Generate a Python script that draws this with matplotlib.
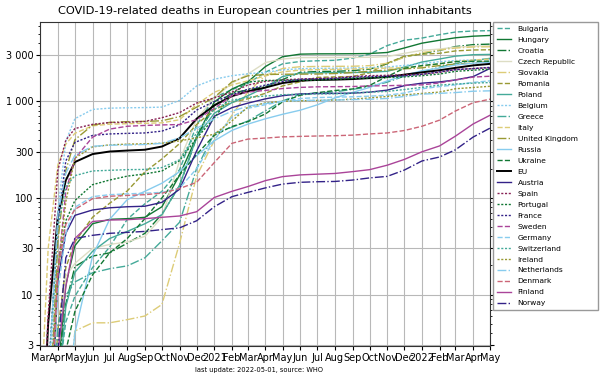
import pandas as pd
import matplotlib
matplotlib.use("Agg")
import matplotlib.pyplot as plt
import matplotlib.dates as mdates
import matplotlib.ticker as mticker

# sample dates (cumulative deaths per 1 million inhabitants)
dates = pd.to_datetime([
    "2020-03-01", "2020-03-15", "2020-04-01", "2020-04-15", "2020-05-01",
    "2020-06-01", "2020-07-01", "2020-08-01", "2020-09-01", "2020-10-01",
    "2020-11-01", "2020-12-01", "2021-01-01", "2021-02-01", "2021-03-01",
    "2021-04-01", "2021-05-01", "2021-06-01", "2021-07-01", "2021-08-01",
    "2021-09-01", "2021-10-01", "2021-11-01", "2021-12-01", "2022-01-01",
    "2022-02-01", "2022-03-01", "2022-04-01", "2022-05-01"])

bulgaria = [0.1, 0.3, 1.2, 5.2, 9.6, 19, 31, 60, 87, 117, 196, 566, 1098, 1318, 1530, 2000, 2437, 2580, 2623, 2652, 2797, 3072, 3768, 4275, 4507, 4884, 5203, 5333, 5377]
hungary = [0.1, 0.2, 1.5, 12.6, 32, 54, 60, 61, 63, 81, 172, 428, 983, 1337, 1585, 2287, 2887, 3072, 3093, 3096, 3103, 3119, 3196, 3557, 3990, 4278, 4536, 4711, 4794]
croatia = [0.1, 0.2, 1.5, 8, 19.5, 25, 27, 34, 43, 68, 134, 421, 906, 1217, 1309, 1421, 1677, 1990, 2031, 2040, 2074, 2148, 2444, 2889, 3111, 3358, 3679, 3852, 3901]
czechia = [0.1, 0.1, 2.2, 15.5, 21, 30, 33, 35, 40, 63, 243, 656, 1082, 1532, 1913, 2513, 2737, 2828, 2833, 2838, 2842, 2849, 2897, 3131, 3364, 3467, 3626, 3710, 3748]
slovakia = [0.1, 0.1, 0.1, 0.4, 4.2, 5.1, 5.1, 5.5, 6, 7.9, 34, 168, 392, 715, 1244, 1843, 2183, 2276, 2291, 2297, 2302, 2335, 2473, 2839, 3187, 3388, 3553, 3645, 3663]
romania = [0.1, 0.1, 4.3, 19, 35, 63, 88, 118, 186, 253, 365, 575, 821, 977, 1061, 1209, 1442, 1588, 1766, 1786, 1802, 1969, 2474, 2927, 3063, 3135, 3318, 3391, 3411]
poland = [0.1, 0.1, 0.9, 7.5, 17, 28, 38, 45, 54, 67, 135, 425, 751, 968, 1141, 1392, 1802, 1951, 1971, 1980, 1984, 1992, 2042, 2258, 2545, 2737, 2929, 3032, 3053]
belgium = [0.1, 0.3, 72, 386, 660, 823, 848, 856, 860, 870, 1021, 1439, 1690, 1837, 1925, 1993, 2112, 2171, 2189, 2195, 2210, 2230, 2261, 2348, 2452, 2565, 2635, 2678, 2722]
greece = [0.1, 0.1, 4.8, 9.8, 13.5, 16.8, 18.5, 19.8, 24, 36, 56, 202, 465, 538, 624, 798, 1007, 1180, 1221, 1250, 1327, 1413, 1577, 1817, 2000, 2260, 2452, 2644, 2779]
italy = [0.5, 30, 219, 360, 466, 557, 579, 586, 591, 598, 644, 926, 1236, 1475, 1628, 1831, 2013, 2100, 2126, 2135, 2155, 2181, 2202, 2230, 2287, 2442, 2583, 2663, 2733]
uk = [0.1, 0.3, 35, 192, 400, 567, 604, 615, 619, 628, 694, 869, 1097, 1585, 1834, 1891, 1903, 1907, 1913, 1936, 1978, 2043, 2104, 2166, 2215, 2342, 2424, 2482, 2594]
russia = [0.1, 0.1, 0.1, 0.5, 4, 25, 60, 96, 117, 142, 187, 273, 390, 499, 580, 659, 733, 808, 918, 1082, 1233, 1390, 1623, 1849, 2068, 2205, 2370, 2479, 2534]
ukraine = [0.1, 0.1, 0.5, 2.6, 6.7, 16, 27, 38, 61, 100, 172, 282, 444, 548, 615, 740, 986, 1154, 1226, 1291, 1339, 1459, 1803, 2197, 2341, 2445, 2572, 2590, 2600]
eu = [0.1, 5, 65, 152, 235, 284, 302, 309, 315, 340, 414, 660, 906, 1130, 1264, 1387, 1544, 1633, 1660, 1673, 1696, 1734, 1790, 1884, 1991, 2092, 2215, 2349, 2438]
austria = [0.1, 0.1, 14, 43, 66, 75, 79, 81, 82, 90, 123, 307, 699, 859, 956, 1059, 1142, 1191, 1202, 1206, 1213, 1242, 1303, 1449, 1539, 1584, 1663, 1798, 2191]
spain = [0.1, 6, 193, 395, 522, 577, 603, 605, 619, 676, 763, 959, 1082, 1241, 1471, 1607, 1664, 1700, 1719, 1741, 1802, 1839, 1855, 1874, 1902, 1992, 2126, 2181, 2223]
portugal = [0.1, 0.1, 18, 58, 94, 137, 153, 168, 177, 190, 243, 415, 670, 1182, 1577, 1639, 1648, 1653, 1660, 1689, 1728, 1743, 1762, 1786, 1840, 1913, 2039, 2097, 2146]
france = [0.1, 1.4, 54, 241, 375, 443, 459, 465, 470, 491, 569, 811, 994, 1170, 1330, 1471, 1603, 1683, 1708, 1723, 1772, 1800, 1814, 1831, 1900, 2015, 2123, 2177, 2242]
sweden = [0.1, 0.3, 17, 116, 256, 425, 515, 551, 562, 569, 574, 645, 843, 1141, 1246, 1295, 1353, 1391, 1411, 1415, 1420, 1440, 1449, 1464, 1478, 1546, 1662, 1778, 1816]
germany = [0.1, 0.14, 10.5, 43, 80, 103, 108, 110, 112, 114, 126, 201, 398, 688, 845, 921, 998, 1067, 1092, 1102, 1112, 1129, 1155, 1216, 1345, 1419, 1476, 1566, 1627]
switzerland = [0.1, 1.3, 50, 131, 170, 190, 193, 196, 197, 206, 248, 471, 827, 1025, 1098, 1132, 1168, 1184, 1191, 1195, 1213, 1241, 1264, 1322, 1391, 1471, 1506, 1540, 1563]
ireland = [0.1, 0.4, 17, 91, 258, 337, 354, 360, 363, 368, 389, 418, 456, 626, 872, 961, 1000, 1010, 1020, 1029, 1051, 1082, 1122, 1163, 1204, 1245, 1347, 1388, 1429]
netherlands = [0.1, 1.1, 67, 180, 276, 342, 351, 353, 357, 367, 418, 526, 656, 789, 888, 946, 998, 1019, 1023, 1029, 1040, 1049, 1069, 1121, 1184, 1207, 1230, 1270, 1282]
denmark = [0.1, 0.1, 18, 53, 76, 98, 104, 106, 108, 112, 125, 145, 232, 367, 406, 416, 428, 433, 437, 440, 446, 459, 470, 498, 551, 638, 793, 966, 1052]
finland = [0.1, 0.1, 2.4, 12, 38, 57, 59, 59.5, 61, 63, 65, 72, 101, 117, 131, 151, 166, 173, 176, 179, 187, 196, 218, 250, 300, 345, 436, 582, 718]
norway = [0.1, 0.1, 2.6, 24, 38, 41, 43, 44, 45, 47, 49, 58, 81, 103, 114, 127, 139, 145, 147, 148, 153, 161, 167, 194, 241, 265, 315, 426, 528]

# colours (Paul Tol muted)
indigo, cyan, teal, green = "#332288", "#88CCEE", "#44AA99", "#117733"
olive, sand, rose, wine, purple = "#999933", "#DDCC77", "#CC6677", "#882255", "#AA4499"
pale = "#DDDDC4"

series = [
    ("Bulgaria", bulgaria, teal, "--"),
    ("Hungary", hungary, green, "-"),
    ("Croatia", croatia, green, "-."),
    ("Czech Republic", czechia, pale, "-"),
    ("Slovakia", slovakia, sand, "-."),
    ("Romania", romania, olive, "--"),
    ("Poland", poland, teal, "-"),
    ("Belgium", belgium, cyan, ":"),
    ("Greece", greece, teal, "-."),
    ("Italy", italy, sand, "--"),
    ("United Kingdom", uk, olive, "-."),
    ("Russia", russia, cyan, "-"),
    ("Ukraine", ukraine, green, "--"),
    ("EU", eu, "black", "-"),
    ("Austria", austria, indigo, "-"),
    ("Spain", spain, wine, ":"),
    ("Portugal", portugal, green, ":"),
    ("France", france, indigo, ":"),
    ("Sweden", sweden, purple, "--"),
    ("Germany", germany, cyan, "--"),
    ("Switzerland", switzerland, teal, ":"),
    ("Ireland", ireland, olive, ":"),
    ("Netherlands", netherlands, cyan, "-."),
    ("Denmark", denmark, rose, "--"),
    ("Finland", finland, purple, "-"),
    ("Norway", norway, indigo, "-."),
]

fig = plt.figure(figsize=(6, 3.8), dpi=100)
ax = fig.add_axes([0.067, 0.09, 0.75, 0.852])

for name, vals, col, ls in series:
    lw = 1.4 if name == "EU" else 1.0
    if ls == ":":
        ls = (0, (1.5, 1.2))
    ax.plot(dates, vals, color=col, linestyle=ls, linewidth=lw, label=name)

ax.set_yscale("log")
ax.set_ylim(2.95, 6600)
ax.set_xlim(pd.Timestamp("2020-03-01"), pd.Timestamp("2022-05-01"))

ax.yaxis.set_major_locator(mticker.FixedLocator([3, 10, 30, 100, 300, 1000, 3000]))
ax.yaxis.set_major_formatter(mticker.FuncFormatter(lambda v, p: f"{int(v):,}".replace(",", " ")))
ax.yaxis.set_minor_locator(mticker.LogLocator(subs=range(2, 10)))
ax.yaxis.set_minor_formatter(mticker.NullFormatter())

loc = mdates.MonthLocator()
ax.xaxis.set_major_locator(loc)
ax.xaxis.set_major_formatter(mdates.ConciseDateFormatter(loc))

ax.tick_params(labelsize=7, right=True, which="both")
ax.tick_params(which="major", length=3, pad=2)
ax.tick_params(which="minor", length=1.5)
ax.xaxis.get_offset_text().set_fontsize(7)
ax.grid(True, which="major", color="#b8b8b8", linewidth=0.8)
for s in ax.spines.values():
    s.set_color("#333333")

ax.set_title("COVID-19-related deaths in European countries per 1 million inhabitants", fontsize=8.2, pad=6)
ax.legend(loc="upper left", bbox_to_anchor=(1.006, 0.0, 0.233, 1.0), mode="expand",
          fontsize=5.4, handlelength=1.9, handletextpad=0.9, borderpad=0.5,
          labelspacing=0.63, borderaxespad=0, framealpha=1, edgecolor="#999999", fancybox=False)

fig.text(0.432, 0.022, "last update: 2022-05-01, source: WHO", fontsize=4.8, ha="center")

fig.savefig("out.png", dpi=100)
